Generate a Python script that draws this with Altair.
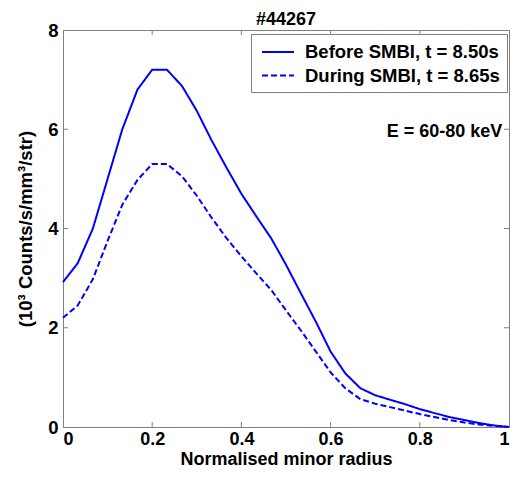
import altair as alt
import pandas as pd

# ---- data ----
radius = [0, 0.033, 0.067, 0.1, 0.133, 0.167, 0.2, 0.233, 0.267, 0.3, 0.333,
          0.367, 0.4, 0.433, 0.467, 0.5, 0.533, 0.567, 0.6, 0.633, 0.667,
          0.7, 0.733, 0.767, 0.8, 0.833, 0.867, 0.9, 0.933, 0.967, 1.0]
before = [2.92, 3.3, 4.0, 5.0, 6.0, 6.8, 7.2, 7.2, 6.87, 6.37, 5.78, 5.22,
          4.7, 4.25, 3.8, 3.27, 2.7, 2.12, 1.52, 1.08, 0.78, 0.64, 0.55,
          0.46, 0.36, 0.28, 0.2, 0.14, 0.08, 0.03, 0.0]
during = [2.2, 2.45, 2.98, 3.75, 4.48, 4.98, 5.3, 5.3, 5.05, 4.66, 4.22,
          3.8, 3.44, 3.1, 2.76, 2.35, 1.95, 1.52, 1.1, 0.78, 0.56, 0.47,
          0.4, 0.33, 0.26, 0.2, 0.14, 0.09, 0.05, 0.02, 0.0]
series_names = ["Before SMBI, t = 8.50s", "During SMBI, t = 8.65s"]
x_ticks = [0.2, 0.4, 0.6, 0.8]
y_ticks = [2, 4, 6]
title_text = "#44267"
annotation = "E = 60-80 keV"
x_title = "Normalised minor radius"
y_title = "(10³ Counts/s/mm³/str)"

W, H = 446, 397
FONT = "Liberation Sans"
FRAME = "#808080"

rows = []
for name, vals in zip(series_names, [before, during]):
    for r, v in zip(radius, vals):
        rows.append({"r": r, "v": v, "series": name})
df = pd.DataFrame(rows)

xs = alt.Scale(domain=[0, 1], nice=False)
ys = alt.Scale(domain=[0, 8], nice=False)

lines = alt.Chart(df).mark_line(color="#0000ff", strokeWidth=2).encode(
    x=alt.X("r:Q", scale=xs, title=x_title,
            axis=alt.Axis(values=[0, 0.2, 0.4, 0.6, 0.8, 1], format="~g",
                          tickSize=0, labelPadding=17,
                          labelBaseline="alphabetic", labelFontSize=18,
                          titleBaseline="alphabetic", titleY=37,
                          titleFontSize=18,
                          grid=False, domainColor=FRAME)),
    y=alt.Y("v:Q", scale=ys, title=y_title,
            axis=alt.Axis(values=[0, 2, 4, 6, 8], tickSize=0, labelPadding=5,
                          titlePadding=12, grid=False, domainColor=FRAME)),
    strokeDash=alt.StrokeDash(
        "series:N",
        scale=alt.Scale(domain=series_names, range=[[1, 0], [6, 3]]),
        legend=alt.Legend(title=None, orient="none", legendX=188, legendY=4,
                          symbolType="M-1.6,0H1.6", symbolSize=400,
                          symbolOffset=9,
                          symbolStrokeColor="#0000ff", symbolStrokeWidth=2,
                          symbolFillColor="transparent",
                          labelFont=FONT, labelFontWeight="bold",
                          labelFontSize=18.5, labelColor="black",
                          labelOffset=16, rowPadding=2.5, padding=7,
                          strokeColor=FRAME, fillColor="white",
                          labelLimit=400)),
    order=alt.Order("r:Q"),
)

xt = pd.DataFrame({"t": x_ticks})
yt = pd.DataFrame({"t": y_ticks})
tick_style = dict(color=FRAME, strokeWidth=1)
xb = alt.Chart(xt).mark_rule(**tick_style).encode(
    x=alt.X("t:Q", scale=xs), y=alt.value(H), y2=alt.value(H - 5))
xtop = alt.Chart(xt).mark_rule(**tick_style).encode(
    x=alt.X("t:Q", scale=xs), y=alt.value(0), y2=alt.value(5))
yl = alt.Chart(yt).mark_rule(**tick_style).encode(
    y=alt.Y("t:Q", scale=ys), x=alt.value(0), x2=alt.value(5))
yr = alt.Chart(yt).mark_rule(**tick_style).encode(
    y=alt.Y("t:Q", scale=ys), x=alt.value(W - 5), x2=alt.value(W))

ann = alt.Chart(pd.DataFrame({"x": [0.985], "y": [5.94], "t": [annotation]})).mark_text(
    align="right", baseline="middle", font=FONT, fontWeight="bold",
    fontSize=18, color="black").encode(
    x=alt.X("x:Q", scale=xs), y=alt.Y("y:Q", scale=ys), text="t:N")

ttl = alt.Chart(pd.DataFrame({"t": [title_text]})).mark_text(
    align="center", baseline="alphabetic", font=FONT, fontWeight="bold",
    fontSize=18, color="black").encode(
    x=alt.value(W / 2), y=alt.value(-5.5), text="t:N")

chart = alt.layer(lines, xb, xtop, yl, yr, ann, ttl).properties(
    width=W, height=H,
    autosize=alt.AutoSizeParams(type="none"),
    padding={"left": 55, "top": 22, "right": 1, "bottom": 41},
).configure_view(stroke=FRAME, strokeWidth=1).configure_axis(
    labelFont=FONT, labelFontWeight="bold", labelFontSize=18.5,
    labelColor="black", titleFont=FONT, titleFontWeight="bold",
    titleFontSize=18.5, titleColor="black"
)

chart.save("out.html", embed_options={"renderer": "svg", "actions": False})
